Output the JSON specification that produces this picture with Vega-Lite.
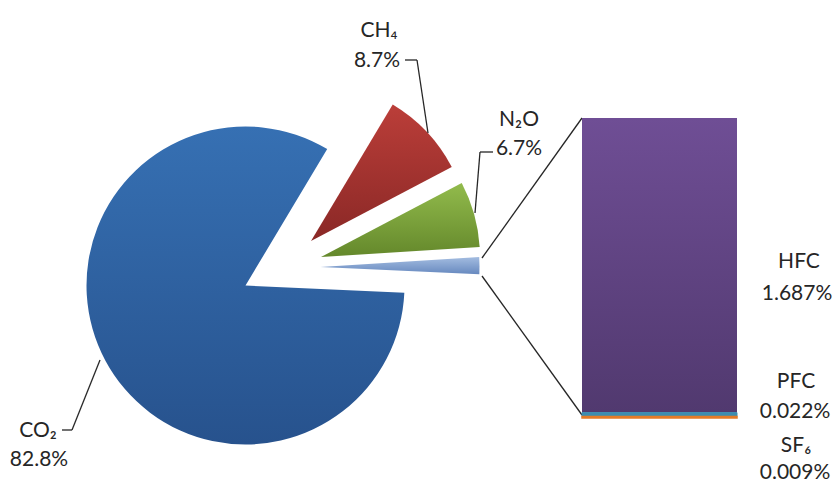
{
  "$schema": "https://vega.github.io/schema/vega-lite/v6.json",
  "width": 837,
  "height": 484,
  "padding": 0,
  "autosize": {"type": "none"},
  "background": "white",
  "config": {"view": {"stroke": null}, "text": {"font": "Lato", "fontSize": 21, "color": "#262626"}},
  "datasets": {
    "pie": [
      {"gas": "CO₂", "share": 0.828},
      {"gas": "CH₄", "share": 0.087},
      {"gas": "N₂O", "share": 0.067},
      {"gas": "F-gases", "share": 0.01718}
    ],
    "bar": [
      {"gas": "HFC", "share": 0.01687},
      {"gas": "PFC", "share": 0.00022},
      {"gas": "SF₆", "share": 0.00009}
    ]
  },
  "resolve": {"scale": {"y": "independent"}},
  "layer": [
    {
      "data": {"name": "pie"},
      "transform": [{"stack": "share", "groupby": [], "sort": [{"field": "share", "order": "descending"}], "as": ["t0", "t1"], "offset": "normalize"}],
      "layer": [
        {
          "transform": [{"filter": "datum.gas === 'CO₂'"}],
          "mark": {"type": "arc", "outerRadius": 159, "fill": {"gradient": "linear", "x1": 0, "y1": 0, "x2": 0, "y2": 1, "stops": [{"offset": 0, "color": "#3670b3"}, {"offset": 1, "color": "#27528d"}]}},
          "encoding": {
            "x": {"datum": 245.5, "type": "quantitative", "scale": {"domain": [0, 837], "nice": false, "zero": false}, "axis": null},
            "y": {"datum": 285.5, "type": "quantitative", "scale": {"domain": [0, 484], "reverse": true, "nice": false, "zero": false}, "axis": null},
            "theta": {"field": "t0", "type": "quantitative", "scale": {"domain": [0, 1], "range": [1.6162, 7.8994]}},
            "theta2": {"field": "t1"}
          }
        },
        {
          "transform": [{"filter": "datum.gas === 'CH₄'"}],
          "mark": {"type": "arc", "outerRadius": 159, "fill": {"gradient": "linear", "x1": 0, "y1": 0, "x2": 0, "y2": 1, "stops": [{"offset": 0, "color": "#bb3e39"}, {"offset": 1, "color": "#8a2826"}]}},
          "encoding": {
            "x": {"datum": 311, "type": "quantitative", "scale": {"domain": [0, 837], "nice": false, "zero": false}, "axis": null},
            "y": {"datum": 241, "type": "quantitative", "scale": {"domain": [0, 484], "reverse": true, "nice": false, "zero": false}, "axis": null},
            "theta": {"field": "t0", "type": "quantitative", "scale": {"domain": [0, 1], "range": [1.6162, 7.8994]}},
            "theta2": {"field": "t1"}
          }
        },
        {
          "transform": [{"filter": "datum.gas === 'N₂O'"}],
          "mark": {"type": "arc", "outerRadius": 159, "fill": {"gradient": "linear", "x1": 0, "y1": 0, "x2": 0, "y2": 1, "stops": [{"offset": 0, "color": "#92bb4c"}, {"offset": 1, "color": "#64882b"}]}},
          "encoding": {
            "x": {"datum": 321, "type": "quantitative", "scale": {"domain": [0, 837], "nice": false, "zero": false}, "axis": null},
            "y": {"datum": 257, "type": "quantitative", "scale": {"domain": [0, 484], "reverse": true, "nice": false, "zero": false}, "axis": null},
            "theta": {"field": "t0", "type": "quantitative", "scale": {"domain": [0, 1], "range": [1.6162, 7.8994]}},
            "theta2": {"field": "t1"}
          }
        },
        {
          "transform": [{"filter": "datum.gas === 'F-gases'"}],
          "mark": {"type": "arc", "outerRadius": 159, "fill": {"gradient": "linear", "x1": 0, "y1": 0, "x2": 0, "y2": 1, "stops": [{"offset": 0, "color": "#a3bce0"}, {"offset": 1, "color": "#6789bf"}]}},
          "encoding": {
            "x": {"datum": 320.5, "type": "quantitative", "scale": {"domain": [0, 837], "nice": false, "zero": false}, "axis": null},
            "y": {"datum": 267, "type": "quantitative", "scale": {"domain": [0, 484], "reverse": true, "nice": false, "zero": false}, "axis": null},
            "theta": {"field": "t0", "type": "quantitative", "scale": {"domain": [0, 1], "range": [1.6162, 7.8994]}},
            "theta2": {"field": "t1"}
          }
        },
        {
          "data": {"values": [{}]},
          "mark": {"type": "rule", "stroke": "#262626", "strokeWidth": 1.3},
          "encoding": {
            "x": {"datum": 405, "type": "quantitative", "scale": {"domain": [0, 837], "nice": false, "zero": false}, "axis": null},
            "y": {"datum": 60, "type": "quantitative", "scale": {"domain": [0, 484], "reverse": true, "nice": false, "zero": false}, "axis": null},
            "x2": {"datum": 417}, "y2": {"datum": 60}
          }
        },
        {
          "data": {"values": [{}]},
          "mark": {"type": "rule", "stroke": "#262626", "strokeWidth": 1.3},
          "encoding": {
            "x": {"datum": 417, "type": "quantitative", "scale": {"domain": [0, 837], "nice": false, "zero": false}, "axis": null},
            "y": {"datum": 60, "type": "quantitative", "scale": {"domain": [0, 484], "reverse": true, "nice": false, "zero": false}, "axis": null},
            "x2": {"datum": 428}, "y2": {"datum": 133}
          }
        },
        {
          "data": {"values": [{}]},
          "mark": {"type": "rule", "stroke": "#262626", "strokeWidth": 1.3},
          "encoding": {
            "x": {"datum": 493, "type": "quantitative", "scale": {"domain": [0, 837], "nice": false, "zero": false}, "axis": null},
            "y": {"datum": 152, "type": "quantitative", "scale": {"domain": [0, 484], "reverse": true, "nice": false, "zero": false}, "axis": null},
            "x2": {"datum": 480}, "y2": {"datum": 152}
          }
        },
        {
          "data": {"values": [{}]},
          "mark": {"type": "rule", "stroke": "#262626", "strokeWidth": 1.3},
          "encoding": {
            "x": {"datum": 480, "type": "quantitative", "scale": {"domain": [0, 837], "nice": false, "zero": false}, "axis": null},
            "y": {"datum": 152, "type": "quantitative", "scale": {"domain": [0, 484], "reverse": true, "nice": false, "zero": false}, "axis": null},
            "x2": {"datum": 475}, "y2": {"datum": 213}
          }
        },
        {
          "data": {"values": [{}]},
          "mark": {"type": "rule", "stroke": "#262626", "strokeWidth": 1.3},
          "encoding": {
            "x": {"datum": 62, "type": "quantitative", "scale": {"domain": [0, 837], "nice": false, "zero": false}, "axis": null},
            "y": {"datum": 430, "type": "quantitative", "scale": {"domain": [0, 484], "reverse": true, "nice": false, "zero": false}, "axis": null},
            "x2": {"datum": 72}, "y2": {"datum": 430}
          }
        },
        {
          "data": {"values": [{}]},
          "mark": {"type": "rule", "stroke": "#262626", "strokeWidth": 1.3},
          "encoding": {
            "x": {"datum": 72, "type": "quantitative", "scale": {"domain": [0, 837], "nice": false, "zero": false}, "axis": null},
            "y": {"datum": 430, "type": "quantitative", "scale": {"domain": [0, 484], "reverse": true, "nice": false, "zero": false}, "axis": null},
            "x2": {"datum": 100}, "y2": {"datum": 360}
          }
        },
        {
          "data": {"values": [{}]},
          "mark": {"type": "rule", "stroke": "#262626", "strokeWidth": 1.3},
          "encoding": {
            "x": {"datum": 482, "type": "quantitative", "scale": {"domain": [0, 837], "nice": false, "zero": false}, "axis": null},
            "y": {"datum": 258, "type": "quantitative", "scale": {"domain": [0, 484], "reverse": true, "nice": false, "zero": false}, "axis": null},
            "x2": {"datum": 582}, "y2": {"datum": 118}
          }
        },
        {
          "data": {"values": [{}]},
          "mark": {"type": "rule", "stroke": "#262626", "strokeWidth": 1.3},
          "encoding": {
            "x": {"datum": 482, "type": "quantitative", "scale": {"domain": [0, 837], "nice": false, "zero": false}, "axis": null},
            "y": {"datum": 276, "type": "quantitative", "scale": {"domain": [0, 484], "reverse": true, "nice": false, "zero": false}, "axis": null},
            "x2": {"datum": 582}, "y2": {"datum": 415}
          }
        },
        {
          "transform": [{"filter": "datum.gas === 'CH₄'"}],
          "mark": {"type": "text"},
          "encoding": {
            "x": {"datum": 379, "type": "quantitative", "scale": {"domain": [0, 837], "nice": false, "zero": false}, "axis": null},
            "y": {"datum": 31, "type": "quantitative", "scale": {"domain": [0, 484], "reverse": true, "nice": false, "zero": false}, "axis": null},
            "text": {"field": "gas"}
          }
        },
        {
          "transform": [{"filter": "datum.gas === 'CH₄'"}],
          "mark": {"type": "text"},
          "encoding": {
            "x": {"datum": 377, "type": "quantitative", "scale": {"domain": [0, 837], "nice": false, "zero": false}, "axis": null},
            "y": {"datum": 61, "type": "quantitative", "scale": {"domain": [0, 484], "reverse": true, "nice": false, "zero": false}, "axis": null},
            "text": {"field": "share", "type": "quantitative", "format": ".1%"}
          }
        },
        {
          "transform": [{"filter": "datum.gas === 'N₂O'"}],
          "mark": {"type": "text"},
          "encoding": {
            "x": {"datum": 519, "type": "quantitative", "scale": {"domain": [0, 837], "nice": false, "zero": false}, "axis": null},
            "y": {"datum": 120, "type": "quantitative", "scale": {"domain": [0, 484], "reverse": true, "nice": false, "zero": false}, "axis": null},
            "text": {"field": "gas"}
          }
        },
        {
          "transform": [{"filter": "datum.gas === 'N₂O'"}],
          "mark": {"type": "text"},
          "encoding": {
            "x": {"datum": 519, "type": "quantitative", "scale": {"domain": [0, 837], "nice": false, "zero": false}, "axis": null},
            "y": {"datum": 149, "type": "quantitative", "scale": {"domain": [0, 484], "reverse": true, "nice": false, "zero": false}, "axis": null},
            "text": {"field": "share", "type": "quantitative", "format": ".1%"}
          }
        },
        {
          "transform": [{"filter": "datum.gas === 'CO₂'"}],
          "mark": {"type": "text"},
          "encoding": {
            "x": {"datum": 38, "type": "quantitative", "scale": {"domain": [0, 837], "nice": false, "zero": false}, "axis": null},
            "y": {"datum": 431, "type": "quantitative", "scale": {"domain": [0, 484], "reverse": true, "nice": false, "zero": false}, "axis": null},
            "text": {"field": "gas"}
          }
        },
        {
          "transform": [{"filter": "datum.gas === 'CO₂'"}],
          "mark": {"type": "text"},
          "encoding": {
            "x": {"datum": 39, "type": "quantitative", "scale": {"domain": [0, 837], "nice": false, "zero": false}, "axis": null},
            "y": {"datum": 460, "type": "quantitative", "scale": {"domain": [0, 484], "reverse": true, "nice": false, "zero": false}, "axis": null},
            "text": {"field": "share", "type": "quantitative", "format": ".1%"}
          }
        },
        {
          "data": {"name": "bar"},
          "transform": [{"filter": "datum.gas === 'HFC'"}],
          "mark": {"type": "text"},
          "encoding": {
            "x": {"datum": 799, "type": "quantitative", "scale": {"domain": [0, 837], "nice": false, "zero": false}, "axis": null},
            "y": {"datum": 262, "type": "quantitative", "scale": {"domain": [0, 484], "reverse": true, "nice": false, "zero": false}, "axis": null},
            "text": {"field": "gas"}
          }
        },
        {
          "data": {"name": "bar"},
          "transform": [{"filter": "datum.gas === 'HFC'"}],
          "mark": {"type": "text"},
          "encoding": {
            "x": {"datum": 797, "type": "quantitative", "scale": {"domain": [0, 837], "nice": false, "zero": false}, "axis": null},
            "y": {"datum": 294, "type": "quantitative", "scale": {"domain": [0, 484], "reverse": true, "nice": false, "zero": false}, "axis": null},
            "text": {"field": "share", "type": "quantitative", "format": ".3%"}
          }
        },
        {
          "data": {"name": "bar"},
          "transform": [{"filter": "datum.gas === 'PFC'"}],
          "mark": {"type": "text"},
          "encoding": {
            "x": {"datum": 796, "type": "quantitative", "scale": {"domain": [0, 837], "nice": false, "zero": false}, "axis": null},
            "y": {"datum": 382, "type": "quantitative", "scale": {"domain": [0, 484], "reverse": true, "nice": false, "zero": false}, "axis": null},
            "text": {"field": "gas"}
          }
        },
        {
          "data": {"name": "bar"},
          "transform": [{"filter": "datum.gas === 'PFC'"}],
          "mark": {"type": "text"},
          "encoding": {
            "x": {"datum": 795, "type": "quantitative", "scale": {"domain": [0, 837], "nice": false, "zero": false}, "axis": null},
            "y": {"datum": 412, "type": "quantitative", "scale": {"domain": [0, 484], "reverse": true, "nice": false, "zero": false}, "axis": null},
            "text": {"field": "share", "type": "quantitative", "format": ".3%"}
          }
        },
        {
          "data": {"name": "bar"},
          "transform": [{"filter": "datum.gas === 'SF₆'"}],
          "mark": {"type": "text"},
          "encoding": {
            "x": {"datum": 796, "type": "quantitative", "scale": {"domain": [0, 837], "nice": false, "zero": false}, "axis": null},
            "y": {"datum": 446, "type": "quantitative", "scale": {"domain": [0, 484], "reverse": true, "nice": false, "zero": false}, "axis": null},
            "text": {"field": "gas"}
          }
        },
        {
          "data": {"name": "bar"},
          "transform": [{"filter": "datum.gas === 'SF₆'"}],
          "mark": {"type": "text"},
          "encoding": {
            "x": {"datum": 795, "type": "quantitative", "scale": {"domain": [0, 837], "nice": false, "zero": false}, "axis": null},
            "y": {"datum": 473, "type": "quantitative", "scale": {"domain": [0, 484], "reverse": true, "nice": false, "zero": false}, "axis": null},
            "text": {"field": "share", "type": "quantitative", "format": ".3%"}
          }
        }
      ]
    },
    {
      "data": {"name": "bar"},
      "transform": [{"stack": "share", "groupby": [], "sort": [{"field": "share", "order": "ascending"}], "as": ["b0", "b1"]}],
      "layer": [
        {
          "transform": [{"filter": "datum.gas === 'HFC'"}],
          "mark": {"type": "bar", "fill": {"gradient": "linear", "x1": 0, "y1": 0, "x2": 0, "y2": 1, "stops": [{"offset": 0, "color": "#6f4e95"}, {"offset": 1, "color": "#51396f"}]}},
          "encoding": {
            "x": {"datum": 582, "type": "quantitative", "scale": {"domain": [0, 837], "nice": false, "zero": false}, "axis": null},
            "x2": {"datum": 737},
            "y": {"field": "b0", "type": "quantitative", "scale": {"domain": [-0.0037796, 0.0239375], "nice": false, "zero": false}, "axis": null},
            "y2": {"field": "b1"}
          }
        },
        {
          "transform": [{"filter": "datum.gas === 'PFC'"}],
          "mark": {"type": "bar", "fill": "#3d8db0", "stroke": "#3d8db0", "strokeWidth": 1},
          "encoding": {
            "x": {"datum": 582, "type": "quantitative", "scale": {"domain": [0, 837], "nice": false, "zero": false}, "axis": null},
            "x2": {"datum": 737},
            "y": {"field": "b0", "type": "quantitative", "scale": {"domain": [-0.0037796, 0.0239375], "nice": false, "zero": false}, "axis": null},
            "y2": {"field": "b1"}
          }
        },
        {
          "transform": [{"filter": "datum.gas === 'SF₆'"}],
          "mark": {"type": "bar", "fill": "#e37b27", "stroke": "#e37b27", "strokeWidth": 1.5},
          "encoding": {
            "x": {"datum": 582, "type": "quantitative", "scale": {"domain": [0, 837], "nice": false, "zero": false}, "axis": null},
            "x2": {"datum": 737},
            "y": {"field": "b0", "type": "quantitative", "scale": {"domain": [-0.0037796, 0.0239375], "nice": false, "zero": false}, "axis": null},
            "y2": {"field": "b1"}
          }
        }
      ]
    }
  ]
}
